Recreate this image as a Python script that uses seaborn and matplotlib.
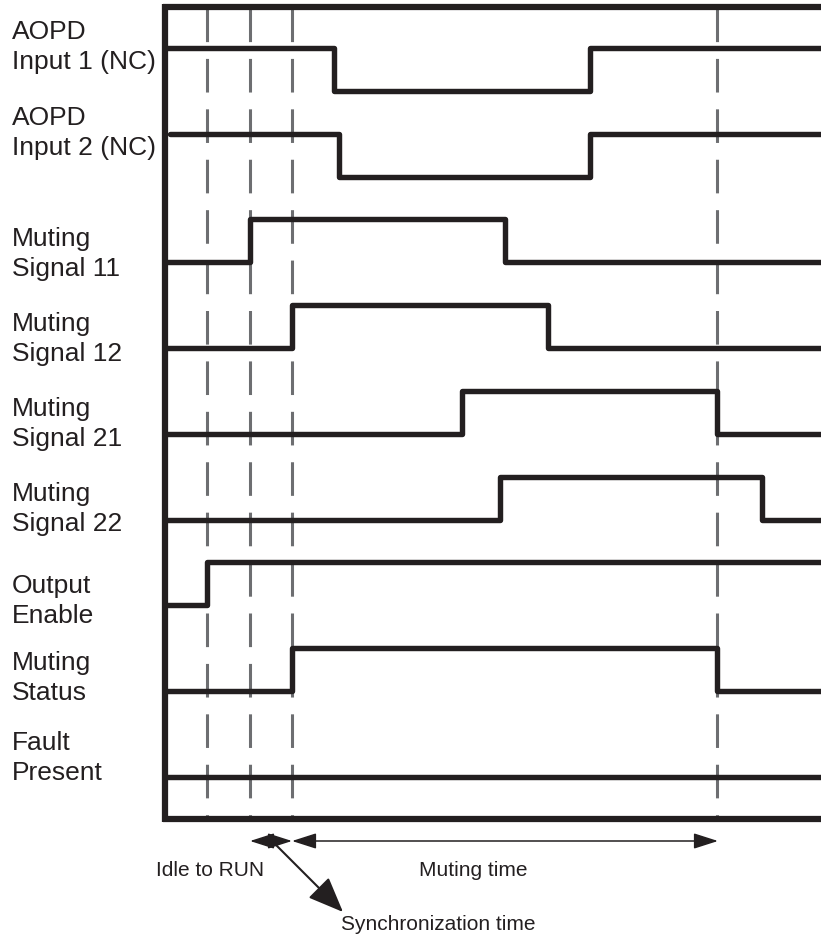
import pandas as pd
import matplotlib
matplotlib.use("Agg")
import matplotlib.pyplot as plt
import seaborn as sns

# signal names (rows, top to bottom)
signals = ["AOPD\nInput 1 (NC)", "AOPD\nInput 2 (NC)", "Muting\nSignal 11", "Muting\nSignal 12",
           "Muting\nSignal 21", "Muting\nSignal 22", "Output\nEnable", "Muting\nStatus", "Fault\nPresent"]
# level at start of the trace (1 = high, 0 = low)
start_levels = [1, 1, 0, 0, 0, 0, 0, 0, 0]
# times where each signal toggles
edges = [
    [334, 590],
    [339, 590],
    [250, 505],
    [292, 548],
    [462, 717],
    [500, 762],
    [207],
    [292, 717],
    [],
]
t_start = [167, 170, 167, 167, 167, 167, 167, 167, 167]
t_end = 821
# dashed marker times
markers = [207, 250, 292, 717]
# timing annotations
idle_span = [250, 292]
muting_span = [292, 718]

row_pitch = 85.75
row_base = 91
amp = 43
label_y = [47, 133, 254, 339, 424, 509, 601, 678, 758]

rows = []
for i, name in enumerate(signals):
    low = row_base + row_pitch * i
    lvl = start_levels[i]
    pts = [(t_start[i], lvl)]
    for e in edges[i]:
        lvl = 1 - lvl
        pts.append((e, lvl))
    pts.append((t_end, lvl))
    for t, l in pts:
        rows.append({"signal": name, "t": t, "y": low - amp * l})
df = pd.DataFrame(rows)

sns.set_style("white")
plt.rcParams["font.family"] = ["Liberation Sans", "DejaVu Sans"]

fig = plt.figure(figsize=(8.21, 9.38), dpi=100)
ax = fig.add_axes([0, 0, 1, 1])

ink = "#231f20"

# dashed timing markers
for m in markers:
    ax.plot([m, m], [8, 818], color="#6d6e71", lw=2.2, ls=(0, (11, 5.5)), zorder=1)

# frame: left, top, bottom
ax.plot([165, 165], [4, 822], color=ink, lw=4.5, solid_capstyle="butt", zorder=3)
ax.plot([163, 821], [7, 7], color=ink, lw=4.5, solid_capstyle="butt", zorder=3)
ax.plot([163, 821], [819, 819], color=ink, lw=4.5, solid_capstyle="butt", zorder=3)

# waveforms
sns.lineplot(data=df, x="t", y="y", units="signal", estimator=None, sort=False,
             drawstyle="steps-post", color=ink, lw=3.9, ax=ax, zorder=2, legend=False)
ax.set_xlim(0, 821)
ax.set_ylim(938, 0)
ax.axis("off")

for name, y in zip(signals, label_y):
    ax.text(12, y, name, fontsize=19, color=ink, va="center", ha="left", linespacing=1.3)

# bottom annotations
arrow_y = 841
ap = dict(lw=1.1, color=ink, shrinkA=0, shrinkB=0, mutation_scale=20)
ax.annotate("", xy=(idle_span[0], arrow_y), xytext=(idle_span[1], arrow_y),
            arrowprops=dict(arrowstyle="<|-|>,head_length=0.75,head_width=0.24", **ap))
ax.annotate("", xy=(muting_span[0], arrow_y), xytext=(muting_span[1], arrow_y),
            arrowprops=dict(arrowstyle="<|-|>,head_length=0.75,head_width=0.24", **ap))
ax.annotate("", xy=(343, 912), xytext=(273, 842),
            arrowprops=dict(arrowstyle="-|>,head_length=1.1,head_width=0.45", **dict(ap, lw=1.5)))

ax.text(210, 870, "Idle to RUN", fontsize=15, color=ink, ha="center", va="center")
ax.text(473, 870, "Muting time", fontsize=15, color=ink, ha="center", va="center")
ax.text(438, 925, "Synchronization time", fontsize=15, color=ink, ha="center", va="center")

fig.savefig("out.png", dpi=100)
